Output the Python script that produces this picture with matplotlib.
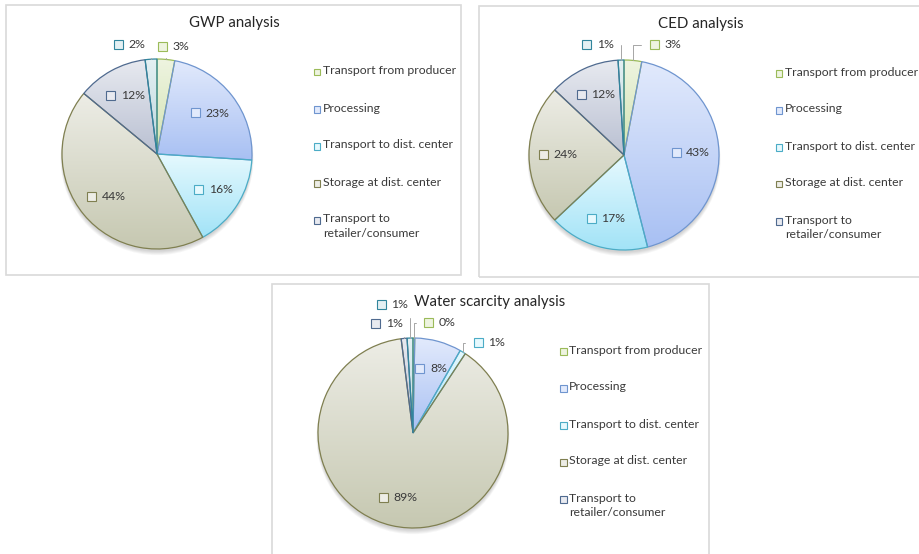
import numpy as np
import matplotlib.pyplot as plt
from matplotlib.patches import Rectangle, Circle
from matplotlib.offsetbox import AnnotationBbox, HPacker, DrawingArea, TextArea
from matplotlib.colors import LinearSegmentedColormap

plt.rcParams['font.family'] = ['Lato', 'DejaVu Sans']

# ---- data ----
stages = ['Transport from producer', 'Processing', 'Transport to dist. center',
          'Storage at dist. center', 'Transport to\nretailer/consumer', 'Other']
gwp = [3, 23, 16, 44, 12, 2]
ced = [3, 43, 17, 24, 12, 1]
water = [0.3, 8, 1, 89, 1, 1]

# slice styling: outline, top of gradient, bottom of gradient
edge_cols = ['#9bbb59', '#6f95cf', '#4bacc6', '#7f7f50', '#4f6a8f', '#31859c']
light_cols = ['#eef4e0', '#e2eafc', '#e6f9fe', '#ededE6', '#e8eaf0', '#e4f0f3']
dark_cols = ['#d2e3b2', '#a8c0f3', '#a2e3f7', '#c6c8b1', '#b9c0d2', '#bcd6dc']

W, H = 920, 554
R = 95          # pie radius in pixels
FS = 8.8
TXT = '#3a3a3a'

fig = plt.figure(figsize=(W / 100, H / 100), dpi=100)


def fx(x):
    return x / W


def fy(y):
    return 1 - y / H


def key_box(i, text):
    da = DrawingArea(7, 7, 0, 0)
    da.add_artist(Rectangle((0.5, 0.5), 6.5, 6.5, fc=light_cols[i], ec=edge_cols[i], lw=0.8))
    ta = TextArea(text, textprops=dict(fontsize=FS, color=TXT))
    return HPacker(children=[da, ta], pad=0, sep=4, align='center')


def draw_panel(box, center, title, values, outside, legend_dx):
    x0, y0, x1, y1 = box
    fig.add_artist(Rectangle((fx(x0), fy(y1)), fx(x1 - x0), (y1 - y0) / H,
                             transform=fig.transFigure, fill=False,
                             ec='#d9d9d9', lw=1.2, zorder=0))
    cx, cy = center
    S = 320
    ax = fig.add_axes([fx(cx - S / 2), fy(cy + S / 2), S / W, S / H])
    ax.patch.set_visible(False)

    # soft shadow under the pie
    for k in range(5):
        ax.add_patch(Circle((0, -0.025 - 0.006 * k), 1 + 0.004 * k,
                            color='black', alpha=0.035, lw=0, zorder=0))

    wedges, _ = ax.pie(values, startangle=90, counterclock=False, radius=1,
                       wedgeprops=dict(linewidth=0.9))
    total = sum(values)
    for i, w in enumerate(wedges):
        w.set_facecolor('none')
        w.set_edgecolor(edge_cols[i])
        w.set_zorder(3)
        bb = w.get_path().get_extents()
        cmap = LinearSegmentedColormap.from_list('g', [light_cols[i], dark_cols[i]])
        grad = np.linspace(0, 1, 256).reshape(-1, 1)
        im = ax.imshow(grad, cmap=cmap, origin='upper', aspect='auto',
                       extent=(bb.x0, bb.x1, bb.y0, bb.y1),
                       interpolation='bilinear', zorder=2)
        im.set_clip_path(w)

        mid = np.deg2rad((w.theta1 + w.theta2) / 2)
        label = key_box(i, f'{values[i] / total * 100:.0f}%')
        if i in outside:
            ab = AnnotationBbox(label, (np.cos(mid), np.sin(mid)), xybox=outside[i],
                                frameon=False, annotation_clip=False,
                                arrowprops=dict(arrowstyle='-', color='#a6a6a6', lw=0.7,
                                                shrinkA=1, shrinkB=0,
                                                connectionstyle='angle,angleA=0,angleB=90,rad=0'))
        else:
            ab = AnnotationBbox(label, (0.7 * np.cos(mid), 0.7 * np.sin(mid)),
                                frameon=False, annotation_clip=False)
        ab.set_zorder(5)
        ax.add_artist(ab)

    lim = S / 2 / R
    ax.set_xlim(-lim, lim)
    ax.set_ylim(-lim, lim)
    ax.set_aspect('equal')
    ax.axis('off')

    fig.text(fx(cx + 77), fy(cy - 131), title, ha='center', va='center',
             fontsize=10.8, color='#262626')

    # legend (last category has no legend entry)
    lx = cx + legend_dx
    for i, name in enumerate(stages[:5]):
        ry = cy - 82 + 37 * i
        fig.add_artist(Rectangle((fx(lx), fy(ry + 3.5)), 6.5 / W, 6.5 / H,
                                 transform=fig.transFigure, fc=light_cols[i],
                                 ec=edge_cols[i], lw=0.8))
        fig.text(fx(lx + 9), fy(ry - 6.5), name, ha='left', va='top',
                 fontsize=FS, color=TXT, linespacing=1.4)


draw_panel((6, 5, 461, 275), (157, 154), 'GWP analysis', gwp,
           {0: (0.17, 1.13), 5: (-0.29, 1.15)}, 157)
draw_panel((479, 6, 925, 277), (624, 155), 'CED analysis', ced,
           {0: (0.43, 1.16), 5: (-0.28, 1.16)}, 152)
draw_panel((272, 284, 709, 560), (413, 433), 'Water scarcity analysis', water,
           {0: (0.28, 1.16), 2: (0.8, 0.95), 4: (-0.28, 1.15), 5: (-0.22, 1.35)}, 147)

fig.savefig('out.png', dpi=100)
